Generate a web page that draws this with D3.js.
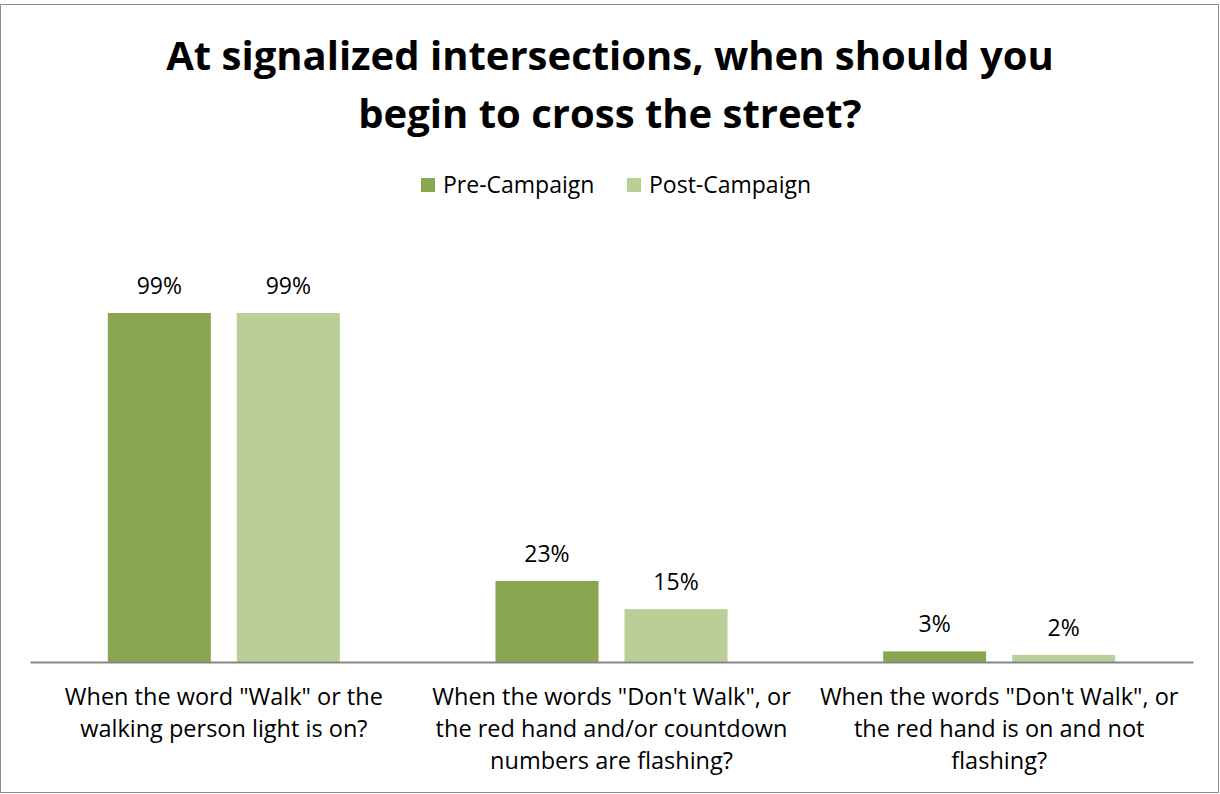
<!DOCTYPE html>
<html>
<head>
<meta charset="utf-8">
<script src="https://cdn.jsdelivr.net/npm/d3@7"></script>
<style>
  html, body { margin: 0; padding: 0; background: #fff; }
  svg { display: block; font-family: "Open Sans", Lato, sans-serif; }
</style>
</head>
<body>
<svg id="chart" width="1220" height="794"></svg>
<script>
// Survey answers, shares of respondents
const categories = [
  'When the word "Walk" or the walking person light is on?',
  'When the words "Don\'t Walk", or the red hand and/or countdown numbers are flashing?',
  'When the words "Don\'t Walk", or the red hand is on and not flashing?'
];
const categoryLines = [
  ['When the word "Walk" or the', 'walking person light is on?'],
  ['When the words "Don\'t Walk", or', 'the red hand and/or countdown', 'numbers are flashing?'],
  ['When the words "Don\'t Walk", or', 'the red hand is on and not', 'flashing?']
];
const seriesNames = ["Pre-Campaign", "Post-Campaign"];
const preCampaign = [0.99, 0.23, 0.03];
const postCampaign = [0.99, 0.15, 0.02];
const titleLines = ["At signalized intersections, when should you", "begin to cross the street?"];

const colors = ["#8aa650", "#b9cf97"];
const seriesValues = [preCampaign, postCampaign];

const svg = d3.select("#chart");
const W = 1220, H = 794;

// outer frame
svg.append("rect")
  .attr("x", 0.5).attr("y", 4.5).attr("width", W - 2).attr("height", H - 6)
  .attr("fill", "#fff").attr("stroke", "#8c8c8c").attr("stroke-width", 1);

// title
svg.append("g").selectAll("text").data(titleLines).join("text")
  .attr("x", 610).attr("y", (d, i) => 70 + i * 58)
  .attr("text-anchor", "middle")
  .attr("font-size", 40).attr("font-weight", 700).attr("fill", "#000")
  .text(d => d);

// legend
const legend = svg.append("g");
const legendX = [421, 627];
seriesNames.forEach((name, i) => {
  legend.append("rect")
    .attr("x", legendX[i]).attr("y", 178).attr("width", 14).attr("height", 14)
    .attr("fill", colors[i]);
  legend.append("text")
    .attr("x", legendX[i] + 22).attr("y", 193)
    .attr("font-size", 23).attr("fill", "#000")
    .text(name);
});

// scales
const baseY = 662;
const x0 = d3.scaleBand().domain(categories).range([30, 1193]).paddingInner(0).paddingOuter(0);
const x1 = d3.scaleBand().domain(seriesNames).range([0, x0.bandwidth()])
  .paddingInner(0.2016).paddingOuter(0.603);
const y = d3.scaleLinear().domain([0, 1]).range([baseY, baseY - 352.5]);

const rows = categories.map((c, ci) => ({
  category: c,
  values: seriesNames.map((s, si) => ({ series: s, si, value: seriesValues[si][ci] }))
}));

const groups = svg.append("g").selectAll("g").data(rows).join("g")
  .attr("transform", d => `translate(${x0(d.category)},0)`);

groups.selectAll("rect").data(d => d.values).join("rect")
  .attr("x", d => x1(d.series))
  .attr("y", d => y(d.value))
  .attr("width", x1.bandwidth())
  .attr("height", d => y(0) - y(d.value))
  .attr("fill", d => colors[d.si]);

groups.selectAll("text.val").data(d => d.values).join("text")
  .attr("class", "val")
  .attr("x", d => x1(d.series) + x1.bandwidth() / 2)
  .attr("y", d => y(d.value) - 19)
  .attr("text-anchor", "middle")
  .attr("font-size", 23).attr("fill", "#000")
  .text(d => d3.format(".0%")(d.value));

// category axis
const axis = d3.axisBottom(x0).tickSize(0).tickFormat("");
const axisG = svg.append("g").attr("transform", `translate(0,${baseY})`).call(axis);
axisG.select(".domain").attr("stroke", "#868686").attr("stroke-width", 2);

const labelG = svg.append("g").selectAll("text").data(categories).join("text")
  .attr("text-anchor", "middle")
  .attr("font-size", 23.5).attr("fill", "#000");
labelG.each(function(d, i) {
  d3.select(this).selectAll("tspan").data(categoryLines[i]).join("tspan")
    .attr("x", x0(d) + x0.bandwidth() / 2)
    .attr("y", (t, j) => 705 + j * 32)
    .text(t => t);
});
</script>
</body>
</html>
